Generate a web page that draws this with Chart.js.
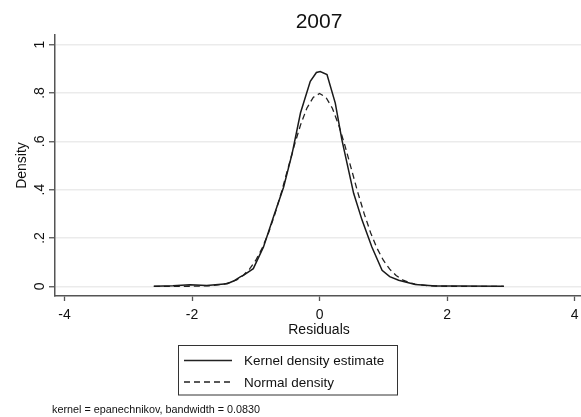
<!DOCTYPE html>
<html>
<head>
<meta charset="utf-8">
<script src="https://cdn.jsdelivr.net/npm/chart.js@4"></script>
<style>
  body { margin: 0; background: #fff; }
</style>
</head>
<body>
<canvas id="myChart" width="581" height="417"></canvas>
<script>
// kernel density estimate
const kernelX = [-2.6, -2.3, -2.03, -1.77, -1.45, -1.35, -1.245, -1.19, -1.04, -0.88, -0.72, -0.565, -0.43, -0.3, -0.146, -0.05, 0.01, 0.116, 0.246, 0.35, 0.455, 0.534, 0.666, 0.82, 0.98, 1.1, 1.24, 1.5, 1.82, 2.2, 2.89];
const kernelY = [0, 0.002, 0.007, 0.003, 0.011, 0.022, 0.039, 0.046, 0.073, 0.163, 0.29, 0.41, 0.55, 0.717, 0.848, 0.885, 0.889, 0.876, 0.758, 0.606, 0.48, 0.385, 0.274, 0.163, 0.066, 0.04, 0.025, 0.008, 0.001, 0.001, 0];

// normal density
const normalX = [-2.6, -2.4, -2.0, -1.7, -1.5, -1.4, -1.3, -1.2, -1.1, -1.0, -0.9, -0.8, -0.7, -0.6, -0.5, -0.4, -0.3, -0.2, -0.1, 0, 0.1, 0.2, 0.3, 0.4, 0.5, 0.6, 0.7, 0.8, 0.9, 1.0, 1.1, 1.2, 1.3, 1.4, 1.5, 1.7, 2.0, 2.4, 2.89];
const normalY = [0, 0, 0.0003, 0.0025, 0.009, 0.016, 0.027, 0.045, 0.071, 0.108, 0.158, 0.222, 0.3, 0.388, 0.484, 0.58, 0.667, 0.737, 0.782, 0.798, 0.782, 0.737, 0.667, 0.58, 0.484, 0.388, 0.3, 0.222, 0.158, 0.108, 0.071, 0.045, 0.027, 0.016, 0.009, 0.0025, 0.0003, 0, 0];

const xTicks = [-4, -2, 0, 2, 4];
const yTicks = [0, 0.2, 0.4, 0.6, 0.8, 1];

const legendLabels = ["Kernel density estimate", "Normal density"];
const titleText = "2007";
const noteText = "kernel = epanechnikov, bandwidth = 0.0830";

const FONT = "'Liberation Sans', Arial, sans-serif";
const axisColor = "#555";

function stataLabel(v) {
  if (v === 0) return "0";
  if (v === 1) return "1";
  return String(v).replace(/^0/, "");
}

const extras = {
  id: "extras",
  afterDraw(chart) {
    const c = chart.ctx;
    const ys = chart.scales.y;
    const area = chart.chartArea;
    c.save();
    c.fillStyle = "#111";

    // title
    c.font = "21px " + FONT;
    c.textAlign = "center";
    c.textBaseline = "middle";
    c.fillText(titleText, 319, 22);

    // rotated y tick labels
    c.font = "14px " + FONT;
    yTicks.forEach((v) => {
      c.save();
      c.translate(40, ys.getPixelForValue(v));
      c.rotate(-Math.PI / 2);
      c.fillText(stataLabel(v), 0, 0);
      c.restore();
    });

    // y title
    c.save();
    c.translate(22, (area.top + area.bottom) / 2);
    c.rotate(-Math.PI / 2);
    c.fillText("Density", 0, 0);
    c.restore();

    // x title
    c.fillText("Residuals", 319, 330);

    // legend box
    c.strokeStyle = "#333";
    c.lineWidth = 1;
    c.strokeRect(178.5, 345.5, 219, 49.5);
    c.textAlign = "left";
    c.font = "13.5px " + FONT;
    const rows = [360.5, 382];
    rows.forEach((yy, i) => {
      c.beginPath();
      c.lineWidth = 1.5;
      c.strokeStyle = "#222";
      c.setLineDash(i === 0 ? [] : [6, 4]);
      c.moveTo(184, yy);
      c.lineTo(232, yy);
      c.stroke();
      c.setLineDash([]);
      c.fillText(legendLabels[i], 244, yy + 1);
    });

    // note
    c.font = "10.8px " + FONT;
    c.fillText(noteText, 52, 410);
    c.restore();
  },
};

const ctx = document.getElementById("myChart");

const myChart = new Chart(ctx, {
  type: "line",
  data: {
    datasets: [
      {
        label: legendLabels[0],
        data: kernelX.map((x, i) => ({ x: x, y: kernelY[i] })),
        borderColor: "#1a1a1a",
        borderWidth: 1.5,
        pointRadius: 0,
        tension: 0,
      },
      {
        label: legendLabels[1],
        data: normalX.map((x, i) => ({ x: x, y: normalY[i] })),
        borderColor: "#222",
        borderWidth: 1.3,
        borderDash: [6, 4],
        pointRadius: 0,
        tension: 0,
      },
    ],
  },
  options: {
    responsive: false,
    animation: false,
    layout: { padding: { top: 35, right: 0, left: 0, bottom: 0 } },
    plugins: { legend: { display: false }, tooltip: { enabled: false } },
    scales: {
      x: {
        type: "linear",
        min: -4.15,
        max: 4.1,
        afterBuildTicks: (s) => { s.ticks = xTicks.map((v) => ({ value: v })); },
        afterFit: (s) => {
          s.height = 121;
          s.paddingLeft = 0;
          s.paddingRight = 0;
        },
        ticks: { color: "#111", font: { size: 14, family: FONT }, padding: 6 },
        grid: { drawOnChartArea: false, tickLength: 5, tickColor: axisColor, tickWidth: 1.3 },
        border: { color: axisColor, width: 1.5 },
      },
      y: {
        min: -0.04,
        max: 1.04,
        afterBuildTicks: (s) => { s.ticks = yTicks.map((v) => ({ value: v })); },
        afterFit: (s) => {
          s.width = 55;
          s.paddingTop = 0;
          s.paddingBottom = 0;
        },
        ticks: { display: false },
        grid: { color: "#ebebeb", lineWidth: 1.5, tickLength: 6, tickColor: axisColor, tickWidth: 1.3 },
        border: { color: axisColor, width: 1.5 },
      },
    },
  },
  plugins: [extras],
});
</script>
</body>
</html>
